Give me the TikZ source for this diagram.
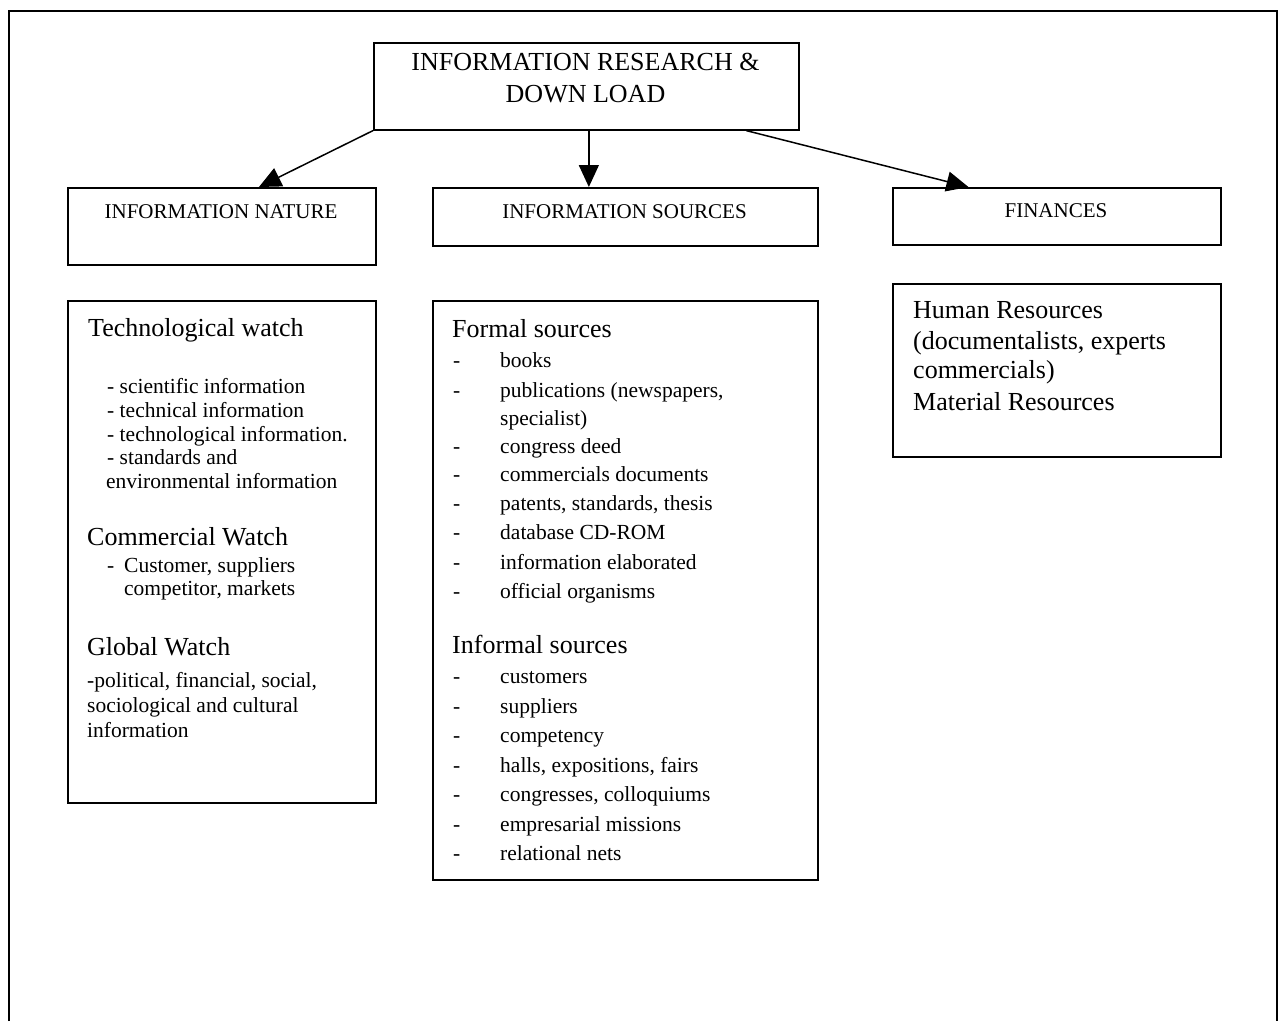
\documentclass[tikz,border=0pt]{standalone}
\usepackage{fontspec}
\setmainfont{Liberation Serif}
\usetikzlibrary{arrows.meta,calc}
\begin{document}
\begin{tikzpicture}[x=1pt,y=-1pt,
  box/.style={draw, line width=1.6pt, fill=white, inner sep=0pt, anchor=north west},
  conn/.style={line width=1.5pt, -{Triangle[length=22pt,width=20pt]}},
  head/.style={font=\fontsize{21}{24}\selectfont, anchor=base, inner sep=0pt},
  title/.style={font=\fontsize{26}{32}\selectfont, anchor=base, inner sep=0pt},
  big/.style={font=\fontsize{26}{30}\selectfont, anchor=base west, inner sep=0pt},
  small/.style={font=\fontsize{21.5}{24}\selectfont, anchor=base west, inner sep=0pt},
]
\useasboundingbox (0,0) rectangle (1278,1021);

% page frame, open at the bottom
\draw[line width=2pt] (9,1021) -- (9,11) -- (1277,11) -- (1277,1021);

% boxes
\node[box, minimum width=425pt, minimum height=87pt] (top) at (373,42) {};
\node[box, minimum width=308pt, minimum height=77pt] (nature) at (67,187) {};
\node[box, minimum width=385pt, minimum height=58pt] (srchead) at (432,187) {};
\node[box, minimum width=328pt, minimum height=57pt] (fin) at (892,187) {};
\node[box, minimum width=308pt, minimum height=502pt] (watch) at (67,300) {};
\node[box, minimum width=385pt, minimum height=579pt] (srclist) at (432,300) {};
\node[box, minimum width=328pt, minimum height=173pt] (res) at (892,283) {};

% connectors
\coordinate (mid) at ($(top.south west)!0.506!(top.south east)$);
\coordinate (rgt) at ($(top.south west)!0.875!(top.south east)$);
\coordinate (natend) at ($(nature.north west)!0.62!(nature.north east)$);
\coordinate (finend) at ($(fin.north west)!0.232!(fin.north east)$);
\draw[conn] (top.south west) -- (natend);
\draw[conn] (mid) -- (mid |- srchead.north);
\draw[conn] (rgt) -- (finend);

% titles
\node[title] (t1) at (585.5,70) {INFORMATION RESEARCH \&};
\node[title] (t2) at (585.5,102) {DOWN LOAD};
\node[head] (h1) at (221,218) {INFORMATION NATURE};
\node[head] (h2) at (624.5,218) {INFORMATION SOURCES};
\node[head] (h3) at (1056,217) {FINANCES};

% information nature
\node[big] (tw) at (88,336) {Technological watch};
\node[small] (tw1) at (107,393) {- scientific information};
\node[small] (tw2) at (107,417) {- technical information};
\node[small] (tw3) at (107,441) {- technological information.};
\node[small] (tw4) at (107,464) {- standards and};
\node[small] (tw5) at (106,488) {environmental information};
\node[big] (cw) at (87,545) {Commercial Watch};
\node[small] (cwd) at (107,572) {-};
\node[small] (cw1) at (124,572) {Customer, suppliers};
\node[small] (cw2) at (124,595) {competitor, markets};
\node[big] (gw) at (87,655) {Global Watch};
\node[small] (gw1) at (87,687) {-political, financial, social,};
\node[small] (gw2) at (87,712) {sociological and cultural};
\node[small] (gw3) at (87,737) {information};

% information sources
\node[big] (fs) at (452,337) {Formal sources};
\foreach \y/\t [count=\i] in {367/books, 397/{publications (newspapers,}, 453/congress deed,
  481/commercials documents, 510/{patents, standards, thesis}, 539/database CD-ROM,
  569/information elaborated, 598/official organisms}{
  \node[small] (fsd\i) at (453,\y) {-};
  \node[small] (fs\i) at (500,\y) {\t};
}
\node[small] (fs2b) at (500,425) {specialist)};
\node[big] (is) at (452,653) {Informal sources};
\foreach \y/\t [count=\i] in {683/customers, 713/suppliers, 742/competency,
  772/{halls, expositions, fairs}, 801/{congresses, colloquiums},
  831/empresarial missions, 860/relational nets}{
  \node[small] (isd\i) at (453,\y) {-};
  \node[small] (is\i) at (500,\y) {\t};
}

% finances
\node[big] (r1) at (913,318) {Human Resources};
\node[big] (r2) at (913,349) {(documentalists, experts};
\node[big] (r3) at (913,378) {commercials)};
\node[big] (r4) at (913,410) {Material Resources};
\end{tikzpicture}
\end{document}
